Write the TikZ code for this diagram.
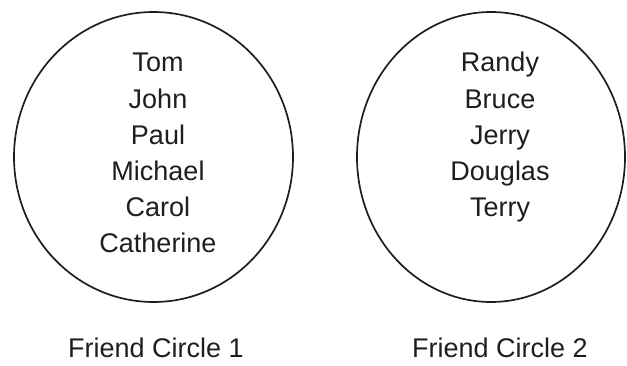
\documentclass[tikz,border=0pt]{standalone}
\usepackage{fontspec}
\setmainfont{Liberation Sans}
\usepackage{tikz}
\usetikzlibrary{shapes.geometric}
\definecolor{figink}{RGB}{30,30,30}
\tikzset{
  ring/.style={ellipse, draw=figink, line width=1.7pt, inner sep=0pt,
               minimum width=#1, minimum height=290pt},
  fname/.style={anchor=base, text=figink, inner sep=0pt,
                font=\fontsize{27}{32}\selectfont},
  ftitle/.style={anchor=base, text=figink, inner sep=0pt,
                 font=\fontsize{27}{32}\selectfont},
}

\begin{document}
\begin{tikzpicture}[x=1pt, y=1pt]
  \useasboundingbox (0,0) rectangle (627,365);

  % ─── Friend circle 1 (left) ────────────────────────────────────────
  \node[ring=279pt] (circ1) at (153.5, 208) {};
  \node[fname] (tom)       at (158, 293) {Tom};
  \node[fname] (john)      at (158, 257) {John};
  \node[fname] (paul)      at (158, 221) {Paul};
  \node[fname] (michael)   at (158, 185) {Michael};
  \node[fname] (carol)     at (158, 149) {Carol};
  \node[fname] (catherine) at (158, 113) {Catherine};
  \node[ftitle] (lbl1)     at (156, 8)   {Friend Circle 1};

  % ─── Friend circle 2 (right) ───────────────────────────────────────
  \node[ring=268pt] (circ2) at (491, 208) {};
  \node[fname] (randy)   at (500, 293) {Randy};
  \node[fname] (bruce)   at (500, 257) {Bruce};
  \node[fname] (jerry)   at (500, 221) {Jerry};
  \node[fname] (douglas) at (500, 185) {Douglas};
  \node[fname] (terry)   at (500, 149) {Terry};
  \node[ftitle] (lbl2)   at (500, 8)   {Friend Circle 2};

\end{tikzpicture}
\end{document}
